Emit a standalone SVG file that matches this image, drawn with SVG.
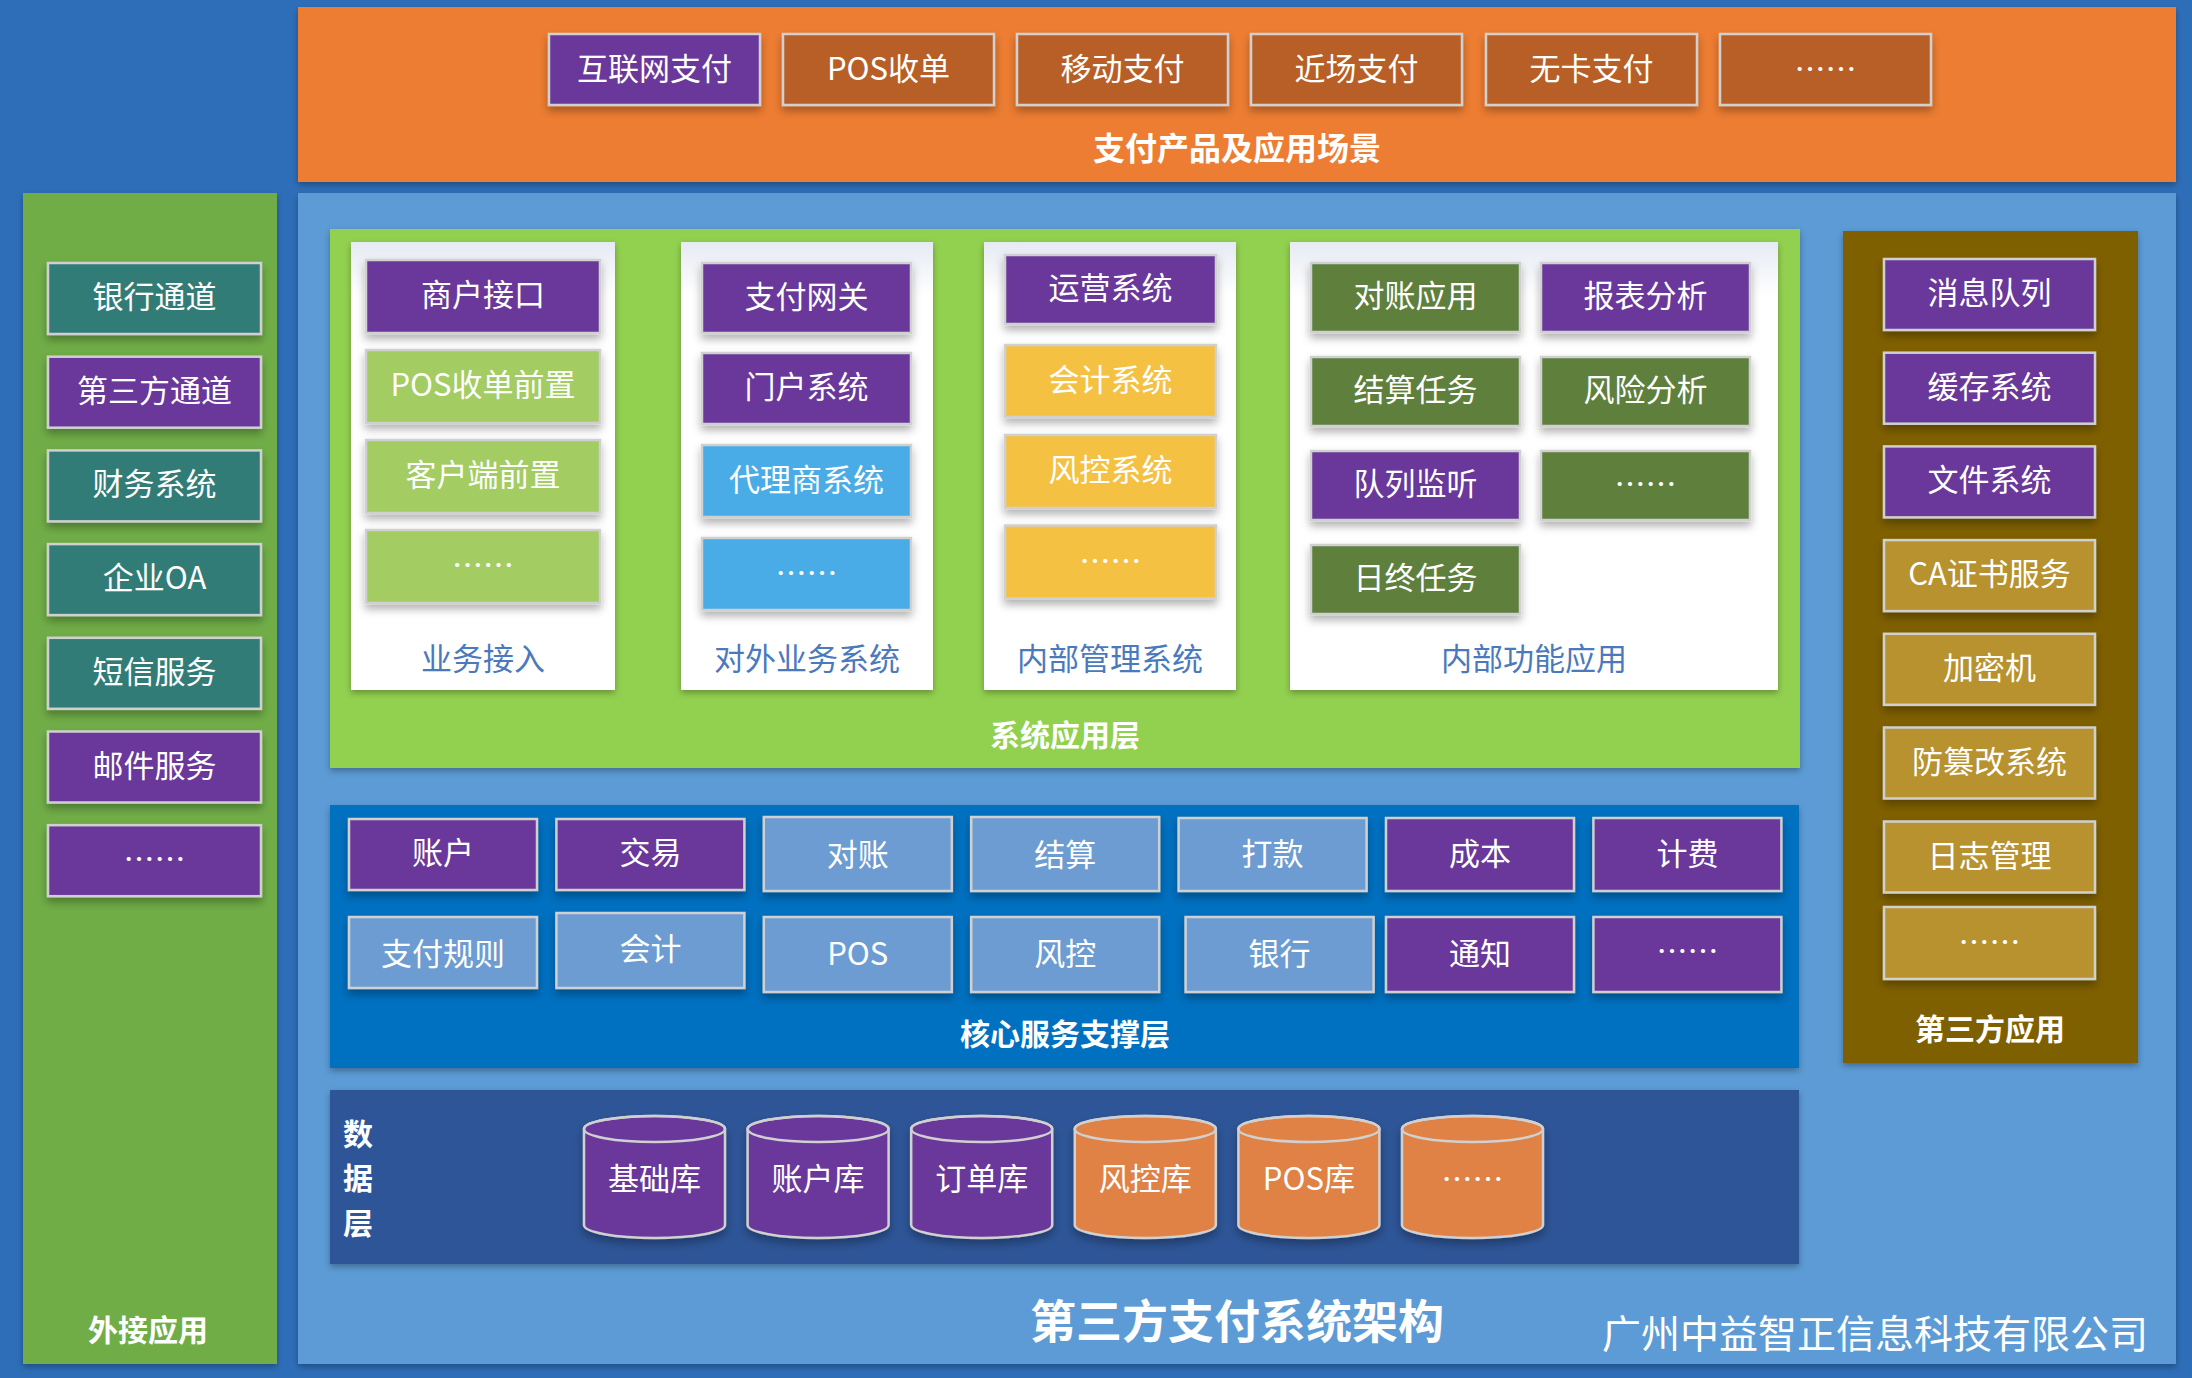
<svg xmlns="http://www.w3.org/2000/svg" width="2192" height="1378" viewBox="0 0 2192 1378">
<defs>
<style>
.t{font-family:"Noto Sans CJK SC","Noto Sans",sans-serif;fill:#fff;font-size:31px;text-anchor:middle;dominant-baseline:central;transform:translateY(-4px)}
.b{font-weight:bold}
.lbl{fill:#4B79BD;font-size:31px}
.box{stroke:#D0D0D0;stroke-width:2.5;filter:url(#sh)}
.pu{fill:#69389A}
.te{fill:#317C78}
.lg{fill:#A3CC63}
.sk{fill:#49ACE6}
.ye{fill:#F5C143}
.dg{fill:#5E7F3E}
.go{fill:#B8922F}
.br{fill:#B75F27}
.st{fill:#6C9CD2}
.cy{stroke:#D0D0D0;stroke-width:2.5;filter:url(#sh)}
.or{fill:#E08245}
</style>
<filter id="sh" x="-10%" y="-10%" width="120%" height="140%">
<feDropShadow dx="0" dy="5" stdDeviation="4" flood-color="#000" flood-opacity="0.3"/>
</filter>
<filter id="psh" x="-5%" y="-5%" width="110%" height="110%">
<feDropShadow dx="0" dy="3" stdDeviation="3" flood-color="#000" flood-opacity="0.3"/>
</filter>
<linearGradient id="wg" x1="0" y1="0" x2="0" y2="1">
<stop offset="0" stop-color="#E6EAF3"/>
<stop offset="0.12" stop-color="#FFFFFF"/>
<stop offset="1" stop-color="#FFFFFF"/>
</linearGradient>
</defs>
<rect x="0" y="0" width="2192" height="1378" fill="#2E6EB8"/>

<g id="top-layer">
<rect x="298" y="7" width="1878" height="175" fill="#ED7D31" filter="url(#psh)"/>
<text class="t b" x="1237" y="150" style="font-size:32px">支付产品及应用场景</text>
</g>
<g id="top-1"><rect class="box pu" x="549" y="34" width="211" height="71"/><text class="t" x="654.5" y="70">互联网支付</text></g>
<g id="top-2"><rect class="box br" x="783" y="34" width="211" height="71"/><text class="t" x="888.5" y="70">POS收单</text></g>
<g id="top-3"><rect class="box br" x="1017" y="34" width="211" height="71"/><text class="t" x="1122.5" y="70">移动支付</text></g>
<g id="top-4"><rect class="box br" x="1251" y="34" width="211" height="71"/><text class="t" x="1356.5" y="70">近场支付</text></g>
<g id="top-5"><rect class="box br" x="1486" y="34" width="211" height="71"/><text class="t" x="1591.5" y="70">无卡支付</text></g>
<g id="top-6"><rect class="box br" x="1720" y="34" width="211" height="71"/><text class="t" x="1825.5" y="70">……</text></g>

<g id="main-panel"><rect x="298" y="193" width="1878" height="1171" fill="#5B9BD5" filter="url(#psh)"/></g>

<g id="left-panel">
<rect x="23" y="193" width="254" height="1171" fill="#70AD47" filter="url(#psh)"/>
<text class="t b" x="148" y="1332" style="font-size:30px">外接应用</text>
</g>
<g id="l-1"><rect class="box te" x="48" y="263" width="213" height="71"/><text class="t" x="154.5" y="298.5">银行通道</text></g>
<g id="l-2"><rect class="box pu" x="48" y="356.7" width="213" height="71"/><text class="t" x="154.5" y="392.2">第三方通道</text></g>
<g id="l-3"><rect class="box te" x="48" y="450.4" width="213" height="71"/><text class="t" x="154.5" y="485.9">财务系统</text></g>
<g id="l-4"><rect class="box te" x="48" y="544.1" width="213" height="71"/><text class="t" x="154.5" y="579.6">企业OA</text></g>
<g id="l-5"><rect class="box te" x="48" y="637.8" width="213" height="71"/><text class="t" x="154.5" y="673.3">短信服务</text></g>
<g id="l-6"><rect class="box pu" x="48" y="731.5" width="213" height="71"/><text class="t" x="154.5" y="767">邮件服务</text></g>
<g id="l-7"><rect class="box pu" x="48" y="825.2" width="213" height="71"/><text class="t" x="154.5" y="860.7">……</text></g>

<g id="app-layer">
<rect x="330" y="229" width="1470" height="539" fill="#92D050" filter="url(#psh)"/>
<text class="t b" x="1065" y="737" style="font-size:30px">系统应用层</text>
</g>
<g id="p-access">
<rect x="351" y="242" width="264" height="448" fill="url(#wg)" filter="url(#psh)"/>
<text class="t lbl" x="483" y="660">业务接入</text>
</g>
<g id="p-ext">
<rect x="681" y="242" width="252" height="448" fill="url(#wg)" filter="url(#psh)"/>
<text class="t lbl" x="807" y="660">对外业务系统</text>
</g>
<g id="p-mgmt">
<rect x="984" y="242" width="252" height="448" fill="url(#wg)" filter="url(#psh)"/>
<text class="t lbl" x="1110" y="660">内部管理系统</text>
</g>
<g id="p-func">
<rect x="1290" y="242" width="488" height="448" fill="url(#wg)" filter="url(#psh)"/>
<text class="t lbl" x="1534" y="660">内部功能应用</text>
</g>

<g id="a-1"><rect class="box pu" x="366" y="260" width="234" height="73"/><text class="t" x="483" y="296.5">商户接口</text></g>
<g id="a-2"><rect class="box lg" x="366" y="350" width="234" height="73"/><text class="t" x="483" y="386.5">POS收单前置</text></g>
<g id="a-3"><rect class="box lg" x="366" y="440" width="234" height="73"/><text class="t" x="483" y="476.5">客户端前置</text></g>
<g id="a-4"><rect class="box lg" x="366" y="530" width="234" height="73"/><text class="t" x="483" y="566.5">……</text></g>

<g id="e-1"><rect class="box pu" x="702" y="263" width="209" height="70"/><text class="t" x="806.5" y="298">支付网关</text></g>
<g id="e-2"><rect class="box pu" x="702" y="353" width="209" height="71"/><text class="t" x="806.5" y="388.5">门户系统</text></g>
<g id="e-3"><rect class="box sk" x="702" y="445" width="209" height="72"/><text class="t" x="806.5" y="481">代理商系统</text></g>
<g id="e-4"><rect class="box sk" x="702" y="538" width="209" height="72"/><text class="t" x="806.5" y="574">……</text></g>

<g id="m-1"><rect class="box pu" x="1005" y="255" width="211" height="69"/><text class="t" x="1110.5" y="289.5">运营系统</text></g>
<g id="m-2"><rect class="box ye" x="1005" y="345" width="211" height="72"/><text class="t" x="1110.5" y="381">会计系统</text></g>
<g id="m-3"><rect class="box ye" x="1005" y="435" width="211" height="73"/><text class="t" x="1110.5" y="471.5">风控系统</text></g>
<g id="m-4"><rect class="box ye" x="1005" y="525.5" width="211" height="73"/><text class="t" x="1110.5" y="562">……</text></g>

<g id="f-1"><rect class="box dg" x="1311" y="263" width="209" height="69"/><text class="t" x="1415.5" y="297.5">对账应用</text></g>
<g id="f-2"><rect class="box pu" x="1541" y="263" width="209" height="69"/><text class="t" x="1645.5" y="297.5">报表分析</text></g>
<g id="f-3"><rect class="box dg" x="1311" y="357" width="209" height="69"/><text class="t" x="1415.5" y="391.5">结算任务</text></g>
<g id="f-4"><rect class="box dg" x="1541" y="357" width="209" height="69"/><text class="t" x="1645.5" y="391.5">风险分析</text></g>
<g id="f-5"><rect class="box pu" x="1311" y="451" width="209" height="69"/><text class="t" x="1415.5" y="485.5">队列监听</text></g>
<g id="f-6"><rect class="box dg" x="1541" y="451" width="209" height="69"/><text class="t" x="1645.5" y="485.5">……</text></g>
<g id="f-7"><rect class="box dg" x="1311" y="545" width="209" height="69"/><text class="t" x="1415.5" y="579.5">日终任务</text></g>

<g id="third-panel">
<rect x="1843" y="231" width="295" height="832" fill="#7F6000" filter="url(#psh)"/>
<text class="t b" x="1990" y="1031" style="font-size:30px">第三方应用</text>
</g>
<g id="r-1"><rect class="box pu" x="1884" y="259" width="211" height="71"/><text class="t" x="1989.5" y="294.5">消息队列</text></g>
<g id="r-2"><rect class="box pu" x="1884" y="352.7" width="211" height="71"/><text class="t" x="1989.5" y="388.2">缓存系统</text></g>
<g id="r-3"><rect class="box pu" x="1884" y="446.4" width="211" height="71"/><text class="t" x="1989.5" y="481.9">文件系统</text></g>
<g id="r-4"><rect class="box go" x="1884" y="540.1" width="211" height="71"/><text class="t" x="1989.5" y="575.6">CA证书服务</text></g>
<g id="r-5"><rect class="box go" x="1884" y="633.8" width="211" height="71"/><text class="t" x="1989.5" y="669.3">加密机</text></g>
<g id="r-6"><rect class="box go" x="1884" y="727.5" width="211" height="71"/><text class="t" x="1989.5" y="763">防篡改系统</text></g>
<g id="r-7"><rect class="box go" x="1884" y="821.5" width="211" height="71"/><text class="t" x="1989.5" y="857">日志管理</text></g>
<g id="r-8"><rect class="box go" x="1884" y="907" width="211" height="72"/><text class="t" x="1989.5" y="943">……</text></g>

<g id="core-layer">
<rect x="330" y="805" width="1469" height="263" fill="#0070C0" filter="url(#psh)"/>
<text class="t b" x="1065" y="1036" style="font-size:30px">核心服务支撑层</text>
</g>
<g id="c-1"><rect class="box pu" x="349" y="819" width="188" height="71"/><text class="t" x="443" y="854.5">账户</text></g>
<g id="c-2"><rect class="box pu" x="556.4" y="819" width="188" height="71"/><text class="t" x="650.4" y="854.5">交易</text></g>
<g id="c-3"><rect class="box st" x="763.8" y="817" width="188" height="74"/><text class="t" x="857.8" y="856">对账</text></g>
<g id="c-4"><rect class="box st" x="971.2" y="817" width="188" height="74"/><text class="t" x="1065.2" y="856">结算</text></g>
<g id="c-5"><rect class="box st" x="1178.6" y="818" width="188" height="73"/><text class="t" x="1272.6" y="855">打款</text></g>
<g id="c-6"><rect class="box pu" x="1386" y="818" width="188" height="73"/><text class="t" x="1480" y="855">成本</text></g>
<g id="c-7"><rect class="box pu" x="1593.4" y="818" width="188" height="73"/><text class="t" x="1687.4" y="855">计费</text></g>
<g id="c-8"><rect class="box st" x="349" y="917" width="188" height="71"/><text class="t" x="443" y="955">支付规则</text></g>
<g id="c-9"><rect class="box st" x="556.4" y="913" width="188" height="75"/><text class="t" x="650.4" y="950">会计</text></g>
<g id="c-10"><rect class="box st" x="763.8" y="917" width="188" height="75"/><text class="t" x="857.8" y="955">POS</text></g>
<g id="c-11"><rect class="box st" x="971.2" y="917" width="188" height="75"/><text class="t" x="1065.2" y="955">风控</text></g>
<g id="c-12"><rect class="box st" x="1185.6" y="917" width="188" height="75"/><text class="t" x="1279.6" y="955">银行</text></g>
<g id="c-13"><rect class="box pu" x="1386" y="917" width="188" height="75"/><text class="t" x="1480" y="955">通知</text></g>
<g id="c-14"><rect class="box pu" x="1593.4" y="917" width="188" height="75"/><text class="t" x="1687.4" y="952">……</text></g>

<g id="data-layer">
<rect x="330" y="1090" width="1469" height="174" fill="#2F5597" filter="url(#psh)"/>
<text class="t b" x="358" y="1136" style="font-size:30px">数</text>
<text class="t b" x="358" y="1180" style="font-size:30px">据</text>
<text class="t b" x="358" y="1225" style="font-size:30px">层</text>
</g>
<g id="db-1"><path class="cy pu" d="M584,1129 v96 a70.5,13 0 0 0 141,0 v-96 a70.5,13 0 0 0 -141,0 z"/><ellipse cx="654.5" cy="1129" rx="70.5" ry="13" fill="none" stroke="#D0D0D0" stroke-width="2.5"/><text class="t" x="654.5" y="1180">基础库</text></g>
<g id="db-2"><path class="cy pu" d="M747.6,1129 v96 a70.5,13 0 0 0 141,0 v-96 a70.5,13 0 0 0 -141,0 z"/><ellipse cx="818.1" cy="1129" rx="70.5" ry="13" fill="none" stroke="#D0D0D0" stroke-width="2.5"/><text class="t" x="818.1" y="1180">账户库</text></g>
<g id="db-3"><path class="cy pu" d="M911.2,1129 v96 a70.5,13 0 0 0 141,0 v-96 a70.5,13 0 0 0 -141,0 z"/><ellipse cx="981.7" cy="1129" rx="70.5" ry="13" fill="none" stroke="#D0D0D0" stroke-width="2.5"/><text class="t" x="981.7" y="1180">订单库</text></g>
<g id="db-4"><path class="cy or" d="M1074.8,1129 v96 a70.5,13 0 0 0 141,0 v-96 a70.5,13 0 0 0 -141,0 z"/><ellipse cx="1145.3" cy="1129" rx="70.5" ry="13" fill="none" stroke="#D0D0D0" stroke-width="2.5"/><text class="t" x="1145.3" y="1180">风控库</text></g>
<g id="db-5"><path class="cy or" d="M1238.4,1129 v96 a70.5,13 0 0 0 141,0 v-96 a70.5,13 0 0 0 -141,0 z"/><ellipse cx="1308.9" cy="1129" rx="70.5" ry="13" fill="none" stroke="#D0D0D0" stroke-width="2.5"/><text class="t" x="1308.9" y="1180">POS库</text></g>
<g id="db-6"><path class="cy or" d="M1402,1129 v96 a70.5,13 0 0 0 141,0 v-96 a70.5,13 0 0 0 -141,0 z"/><ellipse cx="1472.5" cy="1129" rx="70.5" ry="13" fill="none" stroke="#D0D0D0" stroke-width="2.5"/><text class="t" x="1472.5" y="1180">……</text></g>

<g id="connectors"></g>

<g id="captions">
<text class="t b" x="1237" y="1322" style="font-size:46px">第三方支付系统架构</text>
<text class="t" x="1875" y="1335" style="font-size:39px">广州中益智正信息科技有限公司</text>
</g>
</svg>
